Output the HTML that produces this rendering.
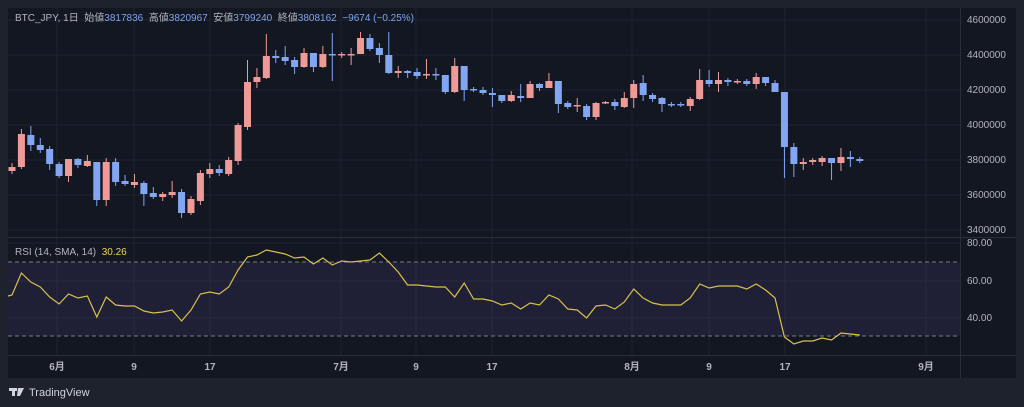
<!DOCTYPE html>
<html><head><meta charset="utf-8"><style>
html,body{margin:0;padding:0;background:#1e222d;}
svg{display:block;font-family:"Liberation Sans","Noto Sans CJK JP",sans-serif;}
</style></head><body>
<svg width="1024" height="407" viewBox="0 0 1024 407" xmlns="http://www.w3.org/2000/svg">
<rect width="1024" height="407" fill="#1e222d"/>
<rect x="8" y="8" width="1008" height="370" fill="#131722"/>
<!-- grid -->
<g stroke="#1f2330" stroke-width="1">
<line x1="57" y1="8" x2="57" y2="355"/><line x1="134" y1="8" x2="134" y2="355"/><line x1="210" y1="8" x2="210" y2="355"/>
<line x1="341" y1="8" x2="341" y2="355"/><line x1="416" y1="8" x2="416" y2="355"/><line x1="492" y1="8" x2="492" y2="355"/>
<line x1="632" y1="8" x2="632" y2="355"/><line x1="709" y1="8" x2="709" y2="355"/><line x1="785" y1="8" x2="785" y2="355"/><line x1="926" y1="8" x2="926" y2="355"/>
<line x1="8" y1="20" x2="960" y2="20"/><line x1="8" y1="55" x2="960" y2="55"/><line x1="8" y1="90" x2="960" y2="90"/><line x1="8" y1="125" x2="960" y2="125"/><line x1="8" y1="160" x2="960" y2="160"/><line x1="8" y1="195" x2="960" y2="195"/><line x1="8" y1="230" x2="960" y2="230"/>
<line x1="8" y1="243" x2="960" y2="243"/><line x1="8" y1="281" x2="960" y2="281"/><line x1="8" y1="318" x2="960" y2="318"/>
</g>
<!-- separators -->
<line x1="8" y1="237.5" x2="1016" y2="237.5" stroke="#2a2e39"/>
<line x1="8" y1="355.5" x2="1016" y2="355.5" stroke="#2a2e39"/>
<line x1="960.5" y1="8" x2="960.5" y2="378" stroke="#2a2e39"/>
<!-- RSI band -->
<rect x="8" y="262" width="952" height="74" fill="#7e57c2" fill-opacity="0.12"/>
<line x1="8" y1="262" x2="960" y2="262" stroke="#787b86" stroke-dasharray="4,3" stroke-width="1"/>
<line x1="8" y1="336" x2="960" y2="336" stroke="#787b86" stroke-dasharray="4,3" stroke-width="1"/>
<g id="candles"></g>
<polyline id="rsi" fill="none" stroke="#d8c14a" stroke-width="1.2"/>
<!-- legend -->
<text x="15" y="21" font-size="10" fill="#b2b5be">BTC_JPY, 1日 &#160;始値<tspan fill="#7fa3ee">3817836</tspan> &#160;高値<tspan fill="#7fa3ee">3820967</tspan> &#160;安値<tspan fill="#7fa3ee">3799240</tspan> &#160;終値<tspan fill="#7fa3ee">3808162</tspan> &#160;<tspan fill="#7fa3ee">−9674 (−0.25%)</tspan></text>
<text x="15" y="255" font-size="10" fill="#b2b5be">RSI (14, SMA, 14) &#160;<tspan fill="#e8d44d">30.26</tspan></text>
<!-- price axis -->
<g font-size="10" fill="#b2b5be">
<text x="967" y="23">4600000</text><text x="967" y="58">4400000</text><text x="967" y="93">4200000</text><text x="967" y="128">4000000</text><text x="967" y="163">3800000</text><text x="967" y="198">3600000</text><text x="967" y="233">3400000</text>
<text x="967" y="246">80.00</text><text x="967" y="284">60.00</text><text x="967" y="321">40.00</text>
</g>
<g font-size="10" fill="#b2b5be" font-weight="bold" text-anchor="middle">
<text x="57" y="370">6月</text><text x="134" y="370">9</text><text x="210" y="370">17</text><text x="341" y="370">7月</text><text x="416" y="370">9</text><text x="492" y="370">17</text><text x="632" y="370">8月</text><text x="709" y="370">9</text><text x="785" y="370">17</text><text x="926" y="370">9月</text>
</g>
<!-- logo -->
<g fill="#d1d4dc">
<rect x="9" y="388" width="8" height="3"/><rect x="12" y="388" width="3" height="8"/>
<polygon points="18,388 24,388 20,396 17,396"/>
<text x="29" y="396" font-size="11">TradingView</text>
</g>
<script>
var C=[[167,171,163,174,1],[167,134,129,169,1],[135,145,126,151,0],[145,150,138,153,0],[149,164,146,170,0],[164,176,162,178,0],[176,159,160,182,1],[159,165,158,168,0],[166,161,155,167,1],[162,200,162,206,0],[200,162,158,206,1],[162,182,158,186,0],[181,184,175,186,0],[185,182,174,188,1],[183,194,181,206,0],[193,197,187,199,0],[197,194,192,201,1],[195,192,181,198,1],[192,213,189,218,0],[213,199,196,215,1],[201,173,170,205,1],[174,169,163,178,1],[169,173,165,176,0],[174,160,157,176,1],[161,125,123,165,1],[127,82,60,130,1],[82,77,68,88,1],[78,56,34,79,1],[56,58,50,63,0],[57,61,46,65,0],[60,67,57,74,0],[67,53,48,68,1],[53,67,53,72,0],[67,54,46,68,1],[54,55,33,81,0],[55,54,52,58,1],[55,54,48,65,1],[54,38,32,54,1],[38,49,34,51,0],[48,55,43,63,0],[55,73,32,74,0],[73,71,66,78,1],[71,73,70,78,0],[72,76,68,79,0],[75,74,59,79,1],[74,75,68,80,0],[75,92,75,94,0],[92,66,58,93,1],[66,90,66,101,0],[89,90,87,92,0],[90,93,87,95,0],[93,95,88,107,0],[95,101,95,103,0],[101,95,91,102,1],[96,98,84,102,0],[98,84,81,98,1],[84,88,83,91,0],[88,81,73,88,1],[81,104,81,113,0],[103,107,101,109,0],[106,105,98,112,1],[106,117,104,120,0],[117,103,102,120,1],[103,102,101,104,1],[102,106,99,110,0],[107,98,92,108,1],[98,84,80,108,1],[83,95,75,101,0],[95,99,93,102,0],[98,104,97,112,0],[104,105,102,107,0],[104,105,102,107,0],[106,99,97,111,1],[99,80,69,100,1],[80,84,70,87,0],[84,80,72,92,1],[80,82,78,86,0],[82,81,79,84,1],[81,84,79,86,0],[84,77,73,89,1],[77,83,77,86,0],[83,92,80,92,0],[92,147,92,178,0],[147,164,143,177,0],[164,162,158,170,1],[162,160,158,165,1],[162,158,156,166,1],[158,163,158,180,0],[163,157,148,171,1],[157,159,151,167,0],[159,161,157,163,0]];
var R=[295,273,282,287,297,304,294,298,296,317,297,305,306,306,311,313,312,310,321,310,294,292,294,287,270,257,255,250,252,254,258,257,264,258,265,261,262,261,260,253,262,272,285,285,286,287,287,297,283,299,299,301,305,303,309,303,305,295,299,309,310,318,306,305,309,302,289,298,303,305,305,305,298,284,288,286,286,286,289,284,290,298,337,344,341,341,338,340,333,334,335];
var ns="http://www.w3.org/2000/svg",g=document.getElementById("candles");
C.forEach(function(c,i){var x=12+i*9.42,col=c[4]?"#ef9a96":"#82a6f2";
var w=document.createElementNS(ns,"line");w.setAttribute("x1",x);w.setAttribute("x2",x);w.setAttribute("y1",c[2]);w.setAttribute("y2",c[3]);w.setAttribute("stroke",col);g.appendChild(w);
var r=document.createElementNS(ns,"rect");var t=Math.min(c[0],c[1]),h=Math.max(1.5,Math.abs(c[0]-c[1]));r.setAttribute("x",x-3.5);r.setAttribute("y",t);r.setAttribute("width",7);r.setAttribute("height",h);r.setAttribute("fill",col);g.appendChild(r);});
var pts="8,296 "+R.map(function(y,i){return (12+i*9.42).toFixed(1)+","+y}).join(" ");
document.getElementById("rsi").setAttribute("points",pts);
</script>
</svg>
</body></html>
